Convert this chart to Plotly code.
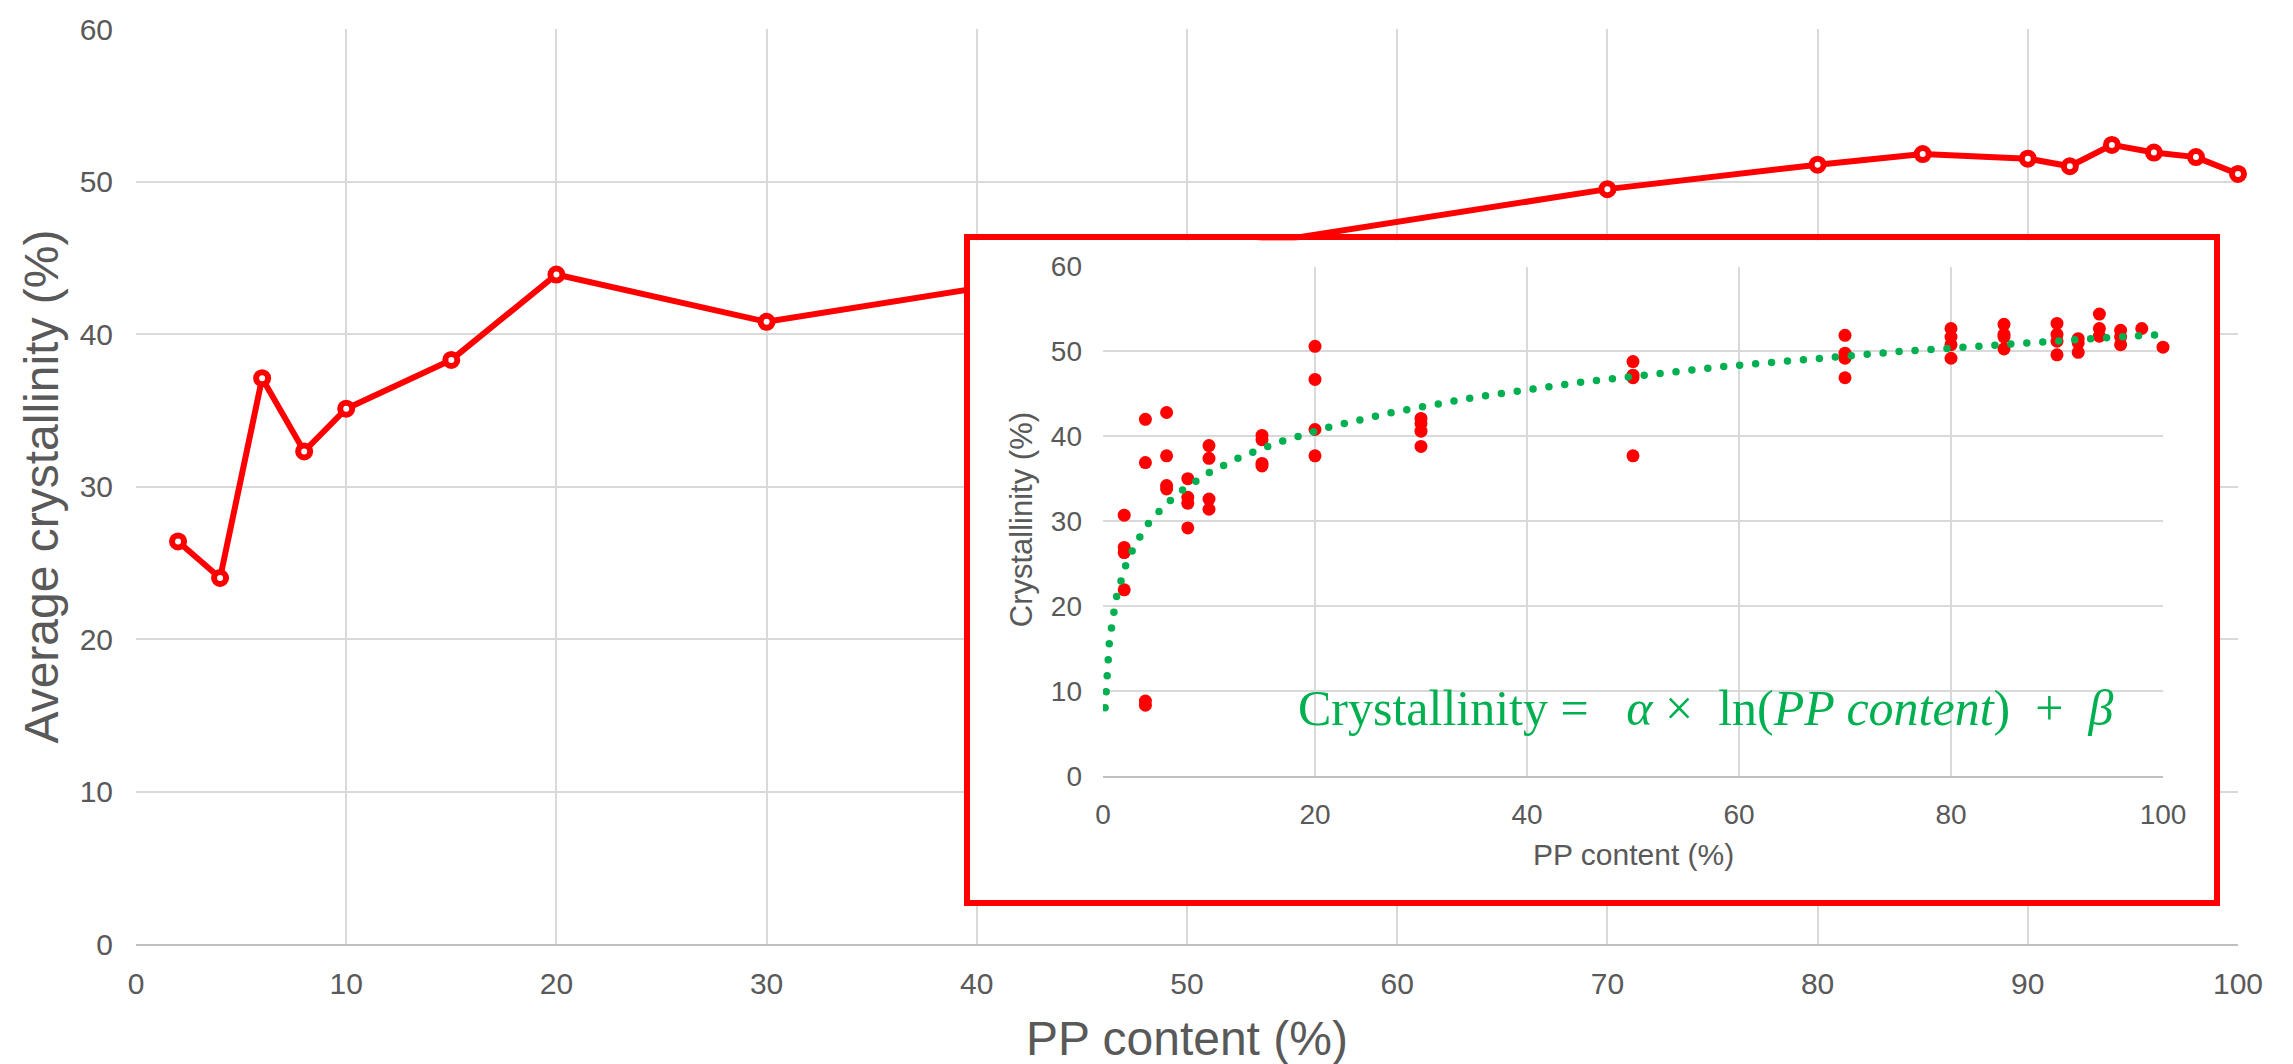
import numpy as np
import plotly.graph_objects as go

# ---- data -------------------------------------------------------------
# Average crystallinity for each blend composition (main line)
pp_content = [2, 4, 6, 8, 10, 15, 20, 30, 50, 70, 80, 85, 90, 92, 94, 96, 98, 100]
avg_crystallinity = [26.4, 24.0, 37.1, 32.3, 35.1, 38.3, 43.9, 40.8, 45.2,
                     49.5, 51.1, 51.8, 51.5, 51.0, 52.4, 51.9, 51.6, 50.5]

# Individual measurements for each composition (inset scatter)
sample_pp = [2, 4, 6, 8, 10, 15, 20, 30, 50, 70, 80, 85, 90, 92, 94, 96, 98, 100]
sample_crystallinity = [
    [30.7, 26.9, 26.3, 21.9],
    [42.0, 36.9, 8.8, 8.3],
    [42.8, 37.7, 34.2, 33.8],
    [35.0, 32.8, 32.1, 29.2],
    [38.9, 37.4, 32.6, 31.4],
    [40.1, 39.6, 36.8, 36.5],
    [50.6, 46.7, 40.8, 37.7],
    [42.1, 41.5, 40.6, 38.8],
    [48.8, 47.2, 46.9, 37.7],
    [51.9, 49.8, 49.2, 46.9],
    [52.7, 51.7, 50.8, 49.2],
    [53.2, 52.0, 51.7, 50.3],
    [53.3, 52.0, 51.2, 49.6],
    [51.5, 51.0, 49.9],
    [54.4, 52.7, 51.8],
    [52.5, 51.7, 50.8],
    [52.7],
    [50.5],
]

main_x_ticks = list(range(0, 101, 10))
main_y_ticks = list(range(0, 61, 10))
inset_x_ticks = list(range(0, 101, 20))
inset_y_ticks = list(range(0, 61, 10))

# ---- logarithmic trendline fitted to the individual measurements ------
sx = np.concatenate([[p] * len(v) for p, v in zip(sample_pp, sample_crystallinity)]).astype(float)
sy = np.concatenate(sample_crystallinity).astype(float)
alpha, beta = np.polyfit(np.log(sx), sy, 1)
FORECAST_BACKWARD = 1.8
trend_x = np.geomspace(sx.min() - FORECAST_BACKWARD, sx.max(), 700)
trend_y = alpha * np.log(trend_x) + beta

# ---- styling ------------------------------------------------------------
RED = "#FF0000"
GREEN = "#00B050"
GRID = "#D9D9D9"
AXIS = "#BFBFBF"
TEXT = "#595959"
SANS = "Liberation Sans, Arial, sans-serif"
SERIF = "Liberation Serif, Times New Roman, serif"

W, H = 2293, 1064
PLOT_L, PLOT_R, PLOT_T, PLOT_B = 136, 2238, 22, 944


def fx(px):
    return (px - PLOT_L) / (PLOT_R - PLOT_L)


def fy(py):
    return (PLOT_B - py) / (PLOT_B - PLOT_T)


box_dom_x = [fx(970), fx(2214)]
box_dom_y = [fy(900), fy(235)]
inset_dom_x = [fx(1103), fx(2163)]
inset_dom_y = [fy(774.4), fy(261.4)]

fig = go.Figure()

# main line with open circle markers
fig.add_trace(go.Scatter(
    x=pp_content, y=avg_crystallinity, mode="lines+markers",
    line=dict(color=RED, width=6),
    marker=dict(size=12, color="white", line=dict(color=RED, width=6)),
    cliponaxis=False, showlegend=False, hoverinfo="x+y",
    xaxis="x", yaxis="y",
))

# empty trace that carries the framed inset panel
fig.add_trace(go.Scatter(x=[], y=[], xaxis="x2", yaxis="y2",
                         showlegend=False, hoverinfo="skip"))

# inset: every measurement
fig.add_trace(go.Scatter(
    x=sx, y=sy, mode="markers",
    marker=dict(size=13, color=RED),
    cliponaxis=False, showlegend=False,
    xaxis="x3", yaxis="y3",
))

# inset: fitted logarithmic trend
fig.add_trace(go.Scatter(
    x=trend_x, y=trend_y, mode="lines",
    line=dict(color=GREEN, width=7.5, dash="7px,9px"),
    showlegend=False, hoverinfo="skip",
    xaxis="x3", yaxis="y3",
))

common_axis = dict(showgrid=True, gridcolor=GRID, gridwidth=2, zeroline=False,
                   ticks="", fixedrange=True)

fig.update_layout(
    width=W, height=H,
    margin=dict(l=PLOT_L, r=W - PLOT_R, t=PLOT_T, b=H - PLOT_B),
    paper_bgcolor="white",
    plot_bgcolor="#FFFFFF",
    font=dict(family=SANS, color=TEXT),
    xaxis=dict(**common_axis, domain=[0, 1], range=[0, 100], tickvals=main_x_ticks,
               showline=True, linecolor=AXIS, linewidth=2, anchor="y",
               tickfont=dict(size=30, color=TEXT, family=SANS), ticklabelstandoff=12),
    yaxis=dict(**common_axis, domain=[0, 1], range=[0, 60], tickvals=main_y_ticks,
               showline=False, anchor="x",
               tickfont=dict(size=30, color=TEXT, family=SANS), ticklabelstandoff=22),
    xaxis2=dict(domain=box_dom_x, range=[0, 1], anchor="y2", showgrid=False,
                zeroline=False, showticklabels=False, ticks="", showline=True,
                mirror=True, linecolor=RED, linewidth=6, fixedrange=True),
    yaxis2=dict(domain=box_dom_y, range=[0, 1], anchor="x2", showgrid=False,
                zeroline=False, showticklabels=False, ticks="", showline=True,
                mirror=True, linecolor=RED, linewidth=6, fixedrange=True),
    xaxis3=dict(**common_axis, domain=inset_dom_x, range=[0, 100], tickvals=inset_x_ticks,
                showline=True, linecolor=AXIS, linewidth=2, anchor="y3",
                tickfont=dict(size=28, color=TEXT, family=SANS), ticklabelstandoff=13),
    yaxis3=dict(**common_axis, domain=inset_dom_y, range=[0, 60], tickvals=inset_y_ticks,
                showline=False, anchor="x3",
                tickfont=dict(size=28, color=TEXT, family=SANS), ticklabelstandoff=20),
)

annotations = [
    dict(text="Average crystallinity (%)", x=fx(41), y=fy(483), textangle=-90,
         font=dict(size=48, color=TEXT, family=SANS)),
    dict(text="PP content (%)", x=fx(1187), y=fy(1039),
         font=dict(size=48, color=TEXT, family=SANS)),
    dict(text="Crystallinity (%)", x=fx(1021), y=fy(517), textangle=-90,
         font=dict(size=31, color=TEXT, family=SANS)),
    dict(text="PP content (%)", x=fx(1633), y=fy(854),
         font=dict(size=30, color=TEXT, family=SANS)),
    dict(text="Crystallinity =   <i>α</i> ×  ln(<i>PP content</i>)  +  <i>β</i>",
         x=fx(1296), y=fy(706), xanchor="left",
         font=dict(size=50, color=GREEN, family=SERIF)),
]
for a in annotations:
    a.setdefault("xanchor", "center")
    fig.add_annotation(xref="paper", yref="paper", yanchor="middle",
                       showarrow=False, **a)

# round caps turn the dashed trendline into round dots
post = """
var gd = document.getElementById('{plot_id}');
function roundDots() {
  gd.querySelectorAll('path.js-line').forEach(function (p) {
    var s = (p.style.stroke || '').replace(/\\s/g, '');
    if (s === 'rgb(0,176,80)') {
      p.style.strokeDasharray = '0px 16px';
      p.style.strokeLinecap = 'round';
    }
  });
}
roundDots();
gd.on('plotly_afterplot', roundDots);
"""

fig.write_html("out.html", post_script=post, config={"displayModeBar": False})
